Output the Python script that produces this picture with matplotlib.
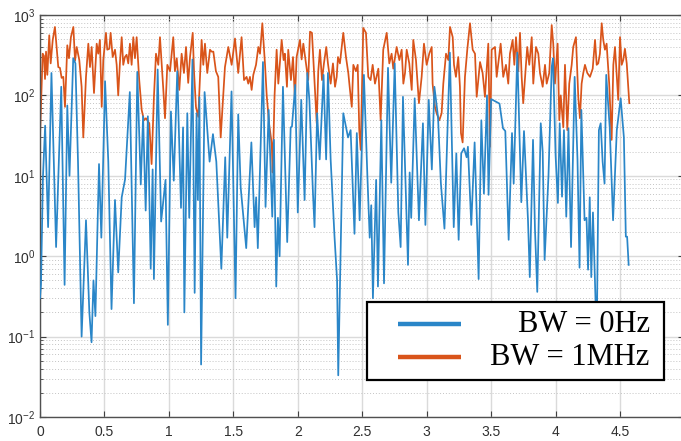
import numpy as np
import matplotlib
matplotlib.use("Agg")
import matplotlib.pyplot as plt
from matplotlib.patches import Rectangle

# BW = 0Hz trace
bw0_x = [0.0, 0.008, 0.023, 0.04, 0.063, 0.089, 0.125, 0.165, 0.191, 0.212,
         0.229, 0.258, 0.275, 0.295, 0.323, 0.357, 0.383, 0.40, 0.415, 0.43,
         0.458, 0.476, 0.505, 0.53, 0.555, 0.582, 0.607, 0.634, 0.66, 0.697,
         0.729, 0.755, 0.782, 0.80, 0.82, 0.837, 0.859, 0.874, 0.884, 0.913,
         0.94, 0.974, 0.992, 1.016, 1.038, 1.065, 1.094, 1.11, 1.12, 1.143,
         1.158, 1.183, 1.20, 1.215, 1.225, 1.237, 1.25, 1.277, 1.316, 1.342,
         1.368, 1.407, 1.437, 1.453, 1.486, 1.517, 1.538, 1.557, 1.6, 1.64,
         1.665, 1.677, 1.69, 1.73, 1.75, 1.774, 1.802, 1.815, 1.833, 1.846,
         1.859, 1.885, 1.918, 1.945, 1.955, 1.98, 2.0, 2.027, 2.053, 2.074,
         2.09, 2.118, 2.13, 2.15, 2.17, 2.2, 2.22, 2.234, 2.255, 2.285,
         2.305, 2.314, 2.353, 2.39, 2.41, 2.44, 2.458, 2.48, 2.513, 2.54,
         2.558, 2.57, 2.583, 2.608, 2.622, 2.648, 2.669, 2.70, 2.725, 2.752,
         2.78, 2.798, 2.816, 2.855, 2.868, 2.88, 2.907, 2.94, 2.971, 2.99,
         3.016, 3.04, 3.06, 3.088, 3.11, 3.138, 3.18, 3.21, 3.23, 3.248,
         3.268, 3.29, 3.31, 3.32, 3.346, 3.372, 3.403, 3.424, 3.444, 3.468,
         3.48, 3.50, 3.54, 3.565, 3.592, 3.61, 3.636, 3.662, 3.675, 3.703,
         3.734, 3.755, 3.786, 3.80, 3.825, 3.84, 3.858, 3.885, 3.90, 3.915,
         3.945, 3.97, 3.98, 4.0, 4.018, 4.032, 4.05, 4.065, 4.083, 4.10,
         4.12, 4.148, 4.17, 4.186, 4.20, 4.225, 4.24, 4.252, 4.265, 4.277,
         4.29, 4.31, 4.32, 4.336, 4.35, 4.365, 4.38, 4.393, 4.42, 4.446,
         4.475, 4.505, 4.53, 4.545, 4.555, 4.567]
bw0_y = [0.3, 0.45, 9.7, 42, 2.3, 190, 1.3, 128, 0.44, 75,
         10, 290, 250, 15, 0.1, 2.8, 0.2, 0.085, 0.5, 0.18,
         14, 1.7, 150, 15, 0.22, 5, 0.63, 5.4, 9, 110,
         0.26, 196, 7.8, 55, 3.7, 55, 0.7, 12, 0.52, 210,
         2.7, 8.9, 0.14, 63, 8.7, 200, 4, 40, 0.2, 60,
         3, 280, 0.35, 60, 5, 95, 0.045, 110, 15, 33,
         15, 0.7, 17, 1.7, 112, 0.3, 58, 7.2, 1.26, 26,
         2.3, 5.4, 1.26, 260, 4.1, 66, 3.1, 28, 0.42, 3.0,
         1.0, 128, 1.5, 40, 41, 135, 3.5, 88, 5, 190,
         88, 6, 2.3, 60, 16, 180, 16, 190, 16, 1.75,
         0.5, 0.033, 60, 30, 37, 1.9, 34, 2.8, 180, 10,
         1.7, 4.3, 0.3, 8.9, 0.42, 49, 0.46, 220, 8.2, 250,
         3.5, 1.3, 96, 0.78, 11, 3, 92, 2.8, 45, 2.45,
         88, 12, 128, 54, 8.2, 2.2, 340, 2.3, 19, 1.6,
         19, 22, 17, 23, 2.45, 26, 0.52, 49, 6, 100,
         5.8, 90, 83, 79, 39, 36, 1.6, 34, 8, 340,
         4.7, 36, 2.8, 0.55, 28, 2.2, 0.36, 45, 20, 0.9,
         10, 225, 290, 18, 4.6, 45, 5.5, 37, 3.1, 39,
         1.3, 170, 16, 0.72, 66, 2.8, 3, 0.68, 5.4, 0.55,
         3.5, 0.28, 0.12, 37, 45, 15, 8, 180, 40, 2.8,
         37, 92, 30, 1.75, 1.75, 0.78]

# BW = 1MHz trace
bw1_x = [0.0, 0.021, 0.031, 0.039, 0.047, 0.057, 0.072, 0.083, 0.099, 0.116,
         0.142, 0.155, 0.168, 0.181, 0.194, 0.212, 0.225, 0.24, 0.259, 0.272,
         0.285, 0.305, 0.323, 0.336, 0.357, 0.375, 0.388, 0.401, 0.419, 0.44,
         0.452, 0.465, 0.479, 0.491, 0.512, 0.522, 0.538, 0.548, 0.564, 0.582,
         0.595, 0.607, 0.62, 0.634, 0.646, 0.659, 0.672, 0.685, 0.698, 0.711,
         0.724, 0.737, 0.75, 0.77, 0.789, 0.807, 0.822, 0.848, 0.866, 0.884,
         0.9, 0.918, 0.931, 0.957, 0.97, 0.988, 1.009, 1.022, 1.034, 1.047,
         1.061, 1.081, 1.099, 1.117, 1.133, 1.15, 1.164, 1.185, 1.195, 1.21,
         1.228, 1.254, 1.267, 1.28, 1.298, 1.319, 1.332, 1.345, 1.365, 1.383,
         1.402, 1.435, 1.461, 1.487, 1.513, 1.538, 1.552, 1.564, 1.583, 1.603,
         1.616, 1.629, 1.642, 1.655, 1.676, 1.694, 1.707, 1.725, 1.746, 1.759,
         1.777, 1.798, 1.805, 1.82, 1.836, 1.849, 1.875, 1.89, 1.9, 1.916,
         1.926, 1.947, 1.963, 1.978, 1.991, 2.017, 2.03, 2.043, 2.069, 2.081,
         2.095, 2.11, 2.12, 2.147, 2.159, 2.172, 2.188, 2.203, 2.221, 2.234,
         2.255, 2.273, 2.289, 2.302, 2.312, 2.327, 2.353, 2.374, 2.392, 2.405,
         2.419, 2.431, 2.451, 2.465, 2.477, 2.488, 2.508, 2.529, 2.547, 2.565,
         2.581, 2.599, 2.625, 2.643, 2.663, 2.69, 2.71, 2.728, 2.741, 2.767,
         2.788, 2.806, 2.819, 2.832, 2.845, 2.865, 2.884, 2.896, 2.917, 2.94,
         2.961, 2.979, 3.0, 3.02, 3.039, 3.046, 3.064, 3.077, 3.098, 3.116,
         3.129, 3.15, 3.168, 3.181, 3.202, 3.212, 3.227, 3.245, 3.258, 3.266,
         3.279, 3.297, 3.315, 3.336, 3.357, 3.375, 3.388, 3.414, 3.434, 3.452,
         3.478, 3.491, 3.504, 3.53, 3.543, 3.574, 3.594, 3.615, 3.633, 3.646,
         3.667, 3.68, 3.693, 3.711, 3.724, 3.737, 3.749, 3.78, 3.796, 3.815,
         3.827, 3.848, 3.866, 3.879, 3.9, 3.918, 3.931, 3.951, 3.97, 3.982,
         3.995, 4.016, 4.029, 4.04, 4.06, 4.073, 4.091, 4.106, 4.125, 4.137,
         4.158, 4.176, 4.189, 4.202, 4.215, 4.228, 4.246, 4.267, 4.288, 4.306,
         4.319, 4.331, 4.344, 4.358, 4.37, 4.383, 4.396, 4.416, 4.435, 4.448,
         4.461, 4.486, 4.5, 4.513, 4.525, 4.538, 4.552, 4.572]
bw1_y = [30, 330, 310, 160, 350, 180, 560, 250, 490, 710,
         225, 220, 165, 170, 72, 420, 290, 530, 710, 270,
         400, 275, 128, 30, 170, 440, 225, 400, 107, 440,
         330, 490, 72, 275, 600, 370, 380, 600, 300, 370,
         240, 100, 250, 530, 240, 300, 320, 250, 440, 240,
         530, 290, 530, 155, 66, 49, 52, 45, 14, 95,
         330, 240, 530, 117, 52, 240, 200, 330, 530, 200,
         290, 117, 330, 190, 400, 143, 300, 600, 200, 72,
         54, 490, 240, 440, 190, 370, 350, 350, 200, 170,
         30, 225, 400, 240, 510, 190, 330, 530, 155, 170,
         140, 170, 117, 180, 240, 400, 330, 790, 240, 100,
         45, 25, 11, 100, 370, 140, 490, 275, 330, 128,
         370, 155, 300, 88, 300, 490, 280, 440, 215, 155,
         620, 600, 300, 45, 200, 370, 155, 250, 400, 250,
         140, 250, 128, 170, 300, 250, 600, 300, 190, 117,
         72, 240, 200, 240, 37, 21, 690, 600, 170, 155,
         240, 140, 215, 49, 370, 600, 250, 330, 215, 400,
         275, 370, 140, 190, 370, 250, 117, 490, 275, 80,
         170, 440, 240, 330, 400, 140, 72, 60, 49, 60,
         140, 330, 275, 710, 530, 240, 170, 300, 128, 34,
         26, 170, 370, 790, 370, 330, 96, 260, 190, 96,
         440, 23, 370, 400, 170, 440, 170, 240, 140, 330,
         490, 240, 530, 200, 600, 170, 80, 400, 240, 530,
         140, 400, 330, 190, 128, 240, 140, 190, 750, 440,
         140, 440, 49, 100, 40, 240, 37, 140, 240, 400,
         530, 96, 52, 140, 190, 240, 190, 170, 215, 490,
         240, 250, 330, 790, 490, 370, 440, 140, 28, 240,
         400, 88, 530, 240, 275, 380, 250, 80]

labels = ["BW = 0Hz", "BW = 1MHz"]
colors = ["#2a86c8", "#d9541a"]
xtick_vals = [0, 0.5, 1, 1.5, 2, 2.5, 3, 3.5, 4, 4.5]
xtick_text = ["0", "0.5", "1", "1.5", "2", "2.5", "3", "3.5", "4", "4.5"]

plt.rcParams["font.family"] = ["Liberation Sans", "DejaVu Sans"]

fig = plt.figure(figsize=(6.81, 4.41), dpi=100)
ax = fig.add_axes([0.0587, 0.0544, 0.9464, 0.9116])

ax.plot(bw0_x, bw0_y, color=colors[0], lw=1.25, zorder=3)
ax.plot(bw1_x, bw1_y, color=colors[1], lw=1.25, zorder=2)

ax.set_yscale("log")
ax.set_ylim(1e-2, 1e3)
ax.set_xlim(0, 5)
ax.set_xticks(xtick_vals)
ax.set_xticklabels(xtick_text)

ax.grid(True, which="major", color="#dadada", lw=1.0)
ax.grid(True, which="minor", axis="y", color="#c4c4c4", lw=0.7, ls=(0, (1, 2)))
ax.set_axisbelow(True)

ax.tick_params(which="both", direction="in", top=True, right=True,
               labelsize=10, labelcolor="#303030", color="#404040")
ax.tick_params(which="major", length=4)
ax.tick_params(which="minor", length=2.5)
ax.tick_params(axis="x", pad=6)
for s in ax.spines.values():
    s.set_color("#505050")
    s.set_linewidth(1.0)

# legend box, lower right, texts right-aligned
ax.add_patch(Rectangle((0.507, 0.092), 0.461, 0.194, transform=ax.transAxes,
                       facecolor="white", edgecolor="black", lw=1.6, zorder=10))
for i, yy in enumerate([0.231, 0.149]):
    ax.plot([0.555, 0.653], [yy, yy], transform=ax.transAxes,
            color=colors[i], lw=3.2, zorder=11, solid_capstyle="butt")
    ax.text(0.946, yy, labels[i], transform=ax.transAxes, ha="right",
            va="center", fontsize=22, family="Liberation Serif", zorder=11)

fig.savefig("out.png", dpi=100)
